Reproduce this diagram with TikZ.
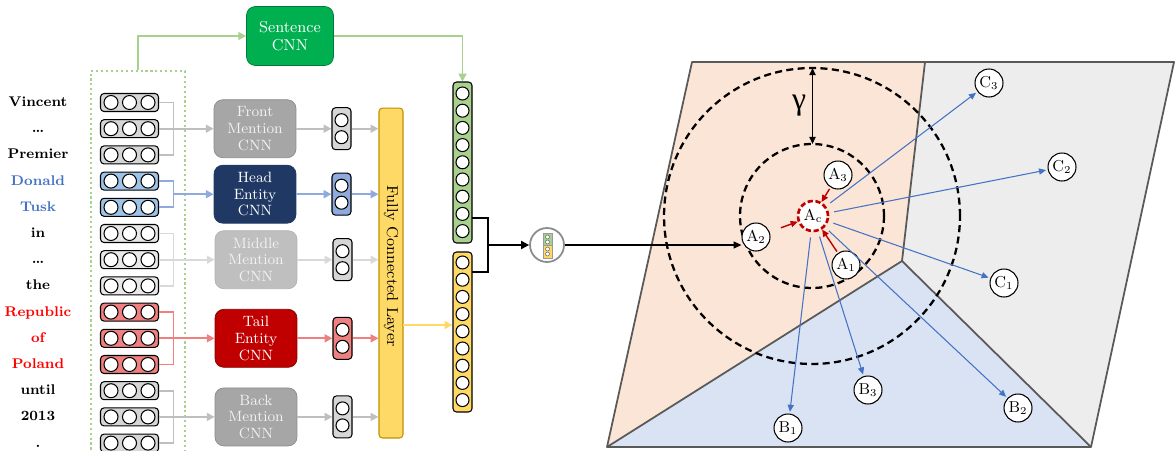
\documentclass[tikz,border=0pt]{standalone}
\usepackage{fontspec}
\newfontfamily\gammafont{Liberation Serif}
\usetikzlibrary{arrows.meta,calc}

\definecolor{tokgray}{HTML}{D6D6D6}
\definecolor{toklight}{HTML}{E8E8E8}
\definecolor{tokblue}{HTML}{9DC3E6}
\definecolor{tokred}{HTML}{F08080}
\definecolor{wordblue}{HTML}{4472C4}
\definecolor{wordred}{HTML}{FF0000}
\definecolor{sentgreen}{HTML}{00B050}
\definecolor{linegreen}{HTML}{A9D18E}
\definecolor{navy}{HTML}{203864}
\definecolor{darkred}{HTML}{C00000}
\definecolor{fcyellow}{HTML}{FFD966}
\definecolor{fcedge}{HTML}{BF9000}
\definecolor{peach}{HTML}{FBE5D6}
\definecolor{planegray}{HTML}{EDEDED}
\definecolor{paleblue}{HTML}{DAE3F3}
\definecolor{arrowblue}{HTML}{4472C4}

\tikzset{
  word/.style={font=\fontsize{8}{9}\selectfont\bfseries, text height=6pt, text depth=1.5pt, inner sep=0pt},
  token/.style={draw, line width=0.6pt, rounded corners=2pt, minimum width=1.16cm, minimum height=0.36cm, inner sep=0pt},
  unit/.style={draw, fill=white, line width=0.6pt},
  tip/.style={-{Triangle[length=4.5pt,width=4.5pt]}},
  gline/.style={draw=black!25, line width=1.1pt},
  lline/.style={draw=black!15, line width=1.1pt},
  bline/.style={draw=wordblue!60, line width=1.1pt},
  rline/.style={draw=tokred, line width=1.1pt},
  cnn/.style={rounded corners=5pt, minimum width=1.64cm, minimum height=1.16cm, align=center, text=white, font=\fontsize{8.5}{9.5}\selectfont, inner sep=1pt},
  vec/.style={draw, line width=0.6pt, rounded corners=2pt, minimum width=0.38cm, inner sep=0pt},
  planeedge/.style={draw=black!65, line width=1pt, line join=round},
  ring/.style={dash pattern=on 4pt off 2.5pt, line width=1.3pt},
  pt/.style={circle, draw, fill=white, line width=0.6pt, minimum size=0.56cm, inner sep=0pt, font=\fontsize{9}{10}\selectfont},
  link/.style={arrowblue, line width=0.6pt, -{Triangle[length=4pt,width=3.5pt]}, shorten <=3pt, shorten >=1pt},
  pull/.style={darkred, line width=0.8pt, -{Triangle[length=4pt,width=3.5pt]}},
}

\begin{document}
\begin{tikzpicture}[x=0.02cm,y=-0.02cm]
\useasboundingbox (0,0) rectangle (1175,450);

% words of the sentence and their embeddings
\foreach \w/\wc/\tc [count=\i] in {Vincent/black/tokgray, \dots/black/tokgray, Premier/black/tokgray, Donald/wordblue/tokblue, Tusk/wordblue/tokblue, in/black/toklight, \dots/black/toklight, the/black/toklight, Republic/wordred/tokred, of/wordred/tokred, Poland/wordred/tokred, until/black/tokgray, 2013/black/tokgray, ./black/tokgray}{
  \node[word, text=\wc] (w\i) at (38,{102.5+26.2*(\i-1)}) {\w};
  \node[token, fill=\tc] (t\i) at (129.5,{102.5+26.2*(\i-1)}) {};
  \foreach \dx in {-18.5,0,18.5}
    \draw[unit] ($(t\i)+(\dx,0)$) circle[radius=0.14cm];
}

% whole sentence box
\node[draw=linegreen, line width=1.2pt, dash pattern=on 1.2pt off 1.6pt, minimum width=1.88cm, minimum height=8cm, anchor=north] (seq) at (138,70) {};

% CNNs
\node[cnn, fill=sentgreen, draw=sentgreen!70!black, minimum width=1.74cm, minimum height=1.18cm, font=\fontsize{9}{10.5}\selectfont] (sent) at (290,36) {Sentence\\CNN};
\node[cnn, fill=black!35, draw=black!45, text=black!5] (front) at ($(t2)+(125.5,0)$) {Front\\Mention\\CNN};
\node[cnn, fill=navy, draw=navy] (head) at ($(t4)!0.5!(t5)+(125.5,0)$) {Head\\Entity\\CNN};
\node[cnn, fill=black!25, draw=black!30, text=black!5] (middle) at ($(t7)+(126.5,0)$) {Middle\\Mention\\CNN};
\node[cnn, fill=darkred, draw=darkred!70!black] (tail) at ($(t10)+(126.5,0)$) {Tail\\Entity\\CNN};
\node[cnn, fill=black!35, draw=black!45, text=black!5] (back) at ($(t13)+(126.5,0)$) {Back\\Mention\\CNN};

% CNN outputs
\foreach \nm/\vf in {front/tokgray, head/wordblue!60, middle/tokgray, tail/tokred, back/tokgray}{
  \node[vec, fill=\vf, minimum height=0.84cm] (\nm v) at ($(\nm)+(86.5,0)$) {};
  \draw[unit] ($(\nm v)+(0,-8.5)$) circle[radius=0.13cm];
  \draw[unit] ($(\nm v)+(0,8.5)$) circle[radius=0.13cm];
}

% fully connected layer
\node[draw=fcedge, fill=fcyellow, rounded corners=2pt, line width=0.6pt, minimum width=0.48cm, minimum height=6.6cm] (fc) at (391,273) {};
\node[rotate=-90, font=\fontsize{9}{10}\selectfont] (fclabel) at (391,266) {Fully Connected Layer};

% sentence and entity vectors
\node[vec, fill=linegreen, minimum height=3.22cm] (gv) at (462.5,162.5) {};
\node[vec, fill=fcyellow, minimum height=3.2cm] (yv) at (462.5,332) {};
\foreach \k in {0,...,8}{
  \draw[unit] ($(gv.north)+(0,{12+17.2*\k})$) circle[radius=0.13cm];
  \draw[unit] ($(yv.north)+(0,{11+17.2*\k})$) circle[radius=0.13cm];
}

% front mention group
\coordinate (kf) at ($(t2.east)+(14.5,0)$);
\draw[gline] (t1.east) -| (kf) |- (t3.east);
\draw[gline] (t2.east) -- (kf);
\draw[gline, tip] (kf) -- (front);
\draw[gline, tip] (front) -- (frontv);
\draw[gline, tip] (frontv) -- (frontv -| fc.west);
% head entity group
\coordinate (kh) at ($(t4.east)!0.5!(t5.east)+(14.5,0)$);
\draw[bline] (t4.east) -| (kh) |- (t5.east);
\draw[bline, tip] (kh) -- (head);
\draw[bline, tip] (head) -- (headv);
\draw[bline, tip] (headv) -- (headv -| fc.west);
% middle mention group
\coordinate (km) at ($(t7.east)+(14.5,0)$);
\draw[lline] (t6.east) -| (km) |- (t8.east);
\draw[lline] (t7.east) -- (km);
\draw[lline, tip] (km) -- (middle);
\draw[lline, tip] (middle) -- (middlev);
\draw[lline, tip] (middlev) -- (middlev -| fc.west);
% tail entity group
\coordinate (kt) at ($(t10.east)+(14.5,0)$);
\draw[rline] (t9.east) -| (kt) |- (t11.east);
\draw[rline] (t10.east) -- (kt);
\draw[rline, tip] (kt) -- (tail);
\draw[rline, tip] (tail) -- (tailv);
\draw[rline, tip] (tailv) -- (tailv -| fc.west);
% back mention group
\coordinate (kb) at ($(t13.east)+(14.5,0)$);
\draw[gline] (t12.east) -| (kb) |- (t14.east);
\draw[gline] (t13.east) -- (kb);
\draw[gline, tip] (kb) -- (back);
\draw[gline, tip] (back) -- (backv);
\draw[gline, tip] (backv) -- (backv -| fc.west);

% sentence path
\draw[draw=linegreen, line width=1.1pt, tip] (seq.north) |- (sent.west);
\draw[draw=linegreen, line width=1.1pt, tip] (sent.east) -| (gv.north);
% fc to entity vector
\coordinate (fcout) at (403,325);
\draw[draw=fcyellow, line width=1.1pt, tip] (fcout) -- (fcout -| yv.west);

% concatenation
\node[circle, draw=black!45, line width=1pt, fill=white, minimum size=0.68cm] (pool) at (547,245) {};
\draw[fill=linegreen, draw=black!40, line width=0.3pt] (543,233) rectangle (552,245.5);
\draw[fill=fcyellow, draw=black!40, line width=0.3pt] (543,245.5) rectangle (552,258);
\foreach \yy in {237,242,249,254}
  \draw[fill=white, draw=black!60, line width=0.3pt] (547.5,\yy) circle[radius=0.04cm];
\coordinate (ga) at (472,218);
\coordinate (ya) at (472,272);
\coordinate (gj) at (488,245);
\draw[line width=1.2pt] (ga) -| (gj) |- (ya);
\draw[line width=1.2pt, tip] (gj) -- (pool);

% embedding space
\coordinate (p1) at (692,62);
\coordinate (p2) at (925,62);
\coordinate (p3) at (1174,62);
\coordinate (p4) at (1091,447);
\coordinate (p5) at (607,447);
\coordinate (pj) at (902,261);
\fill[peach] (p1) -- (p2) -- (pj) -- (p5) -- cycle;
\fill[planegray] (p2) -- (p3) -- (p4) -- (pj) -- cycle;
\fill[paleblue] (p5) -- (pj) -- (p4) -- cycle;
\draw[planeedge] (p1) -- (p3) -- (p4) -- (p5) -- cycle;
\draw[planeedge] (p2) -- (pj);
\draw[planeedge] (p5) -- (pj) -- (p4);

% margins round the centre
\coordinate (ctr) at (812,216);
\draw[ring] (ctr) circle[radius=2.96cm];
\draw[ring] (ctr) circle[radius=1.44cm];
\draw[line width=0.8pt, {Triangle[length=4pt,width=3.5pt]}-{Triangle[length=4pt,width=3.5pt]}] ($(ctr)+(0.5,-148)$) -- ($(ctr)+(0.5,-72)$);
\node[font=\gammafont\fontsize{18}{18}\selectfont] (gam) at (799,106) {γ};

% relation points
\node[pt, draw=darkred, fill=white, line width=1.5pt, dash pattern=on 3pt off 1.5pt, minimum size=0.6cm] (Ac) at (813,216) {$\mathrm{A}_\mathrm{c}$};
\node[pt] (A3) at (838,175) {A$_3$};
\node[pt] (A2) at (756,237) {A$_2$};
\node[pt] (A1) at (846,265) {A$_1$};
\node[pt] (C3) at (989,83) {C$_3$};
\node[pt] (C2) at (1062,167) {C$_2$};
\node[pt] (C1) at (1004,283) {C$_1$};
\node[pt] (B2) at (1018,408) {B$_2$};
\node[pt] (B1) at (788,428) {B$_1$};
\node[pt] (B3) at (868,390) {B$_3$};

\foreach \n in {C3,C2,C1,B2,B1,B3}
  \draw[link] (Ac) -- (\n);
\draw[pull, shorten <=1pt] (A3) -- (Ac);
\draw[pull, shorten <=1pt] (A1) -- (Ac);
\draw[pull, shorten <=0.24cm] (A2) -- (Ac);

% into the space
\draw[line width=0.7pt, -{Triangle[length=4.5pt,width=4pt]}] (pool.east) -- (A2.west |- pool.east);

\end{tikzpicture}
\end{document}
